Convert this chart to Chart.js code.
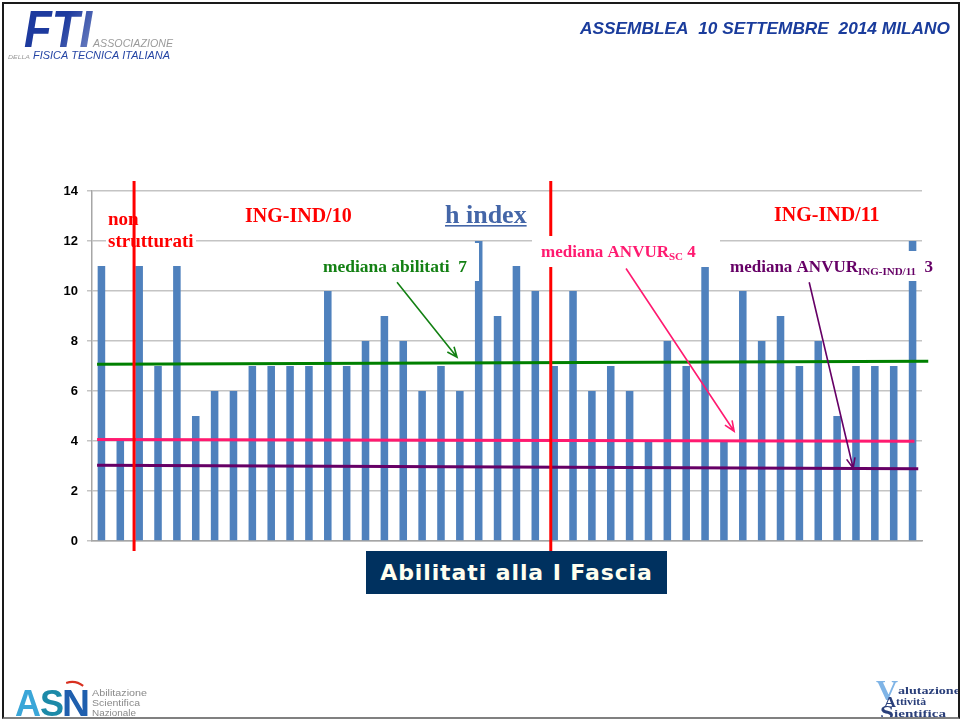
<!DOCTYPE html>
<html>
<head>
<meta charset="utf-8">
<script src="https://cdn.jsdelivr.net/npm/chart.js@4.4.1/dist/chart.umd.min.js"></script>
<style>
html, body { margin: 0; padding: 0; background: #fff; }
#wrap { position: relative; width: 962px; height: 722px; overflow: hidden; background: #fff; }
#c { position: absolute; left: 0; top: 0; }
#frame { position: absolute; left: 2px; top: 2px; width: 954px; height: 713px;
  border: 2px solid #1a1a1a; border-bottom-color: #808080; pointer-events: none; }
#banner { position: absolute; left: 366px; top: 551px; width: 301px; height: 43px;
  background: #00315f; color: #fffff0; font: bold 22px "DejaVu Sans", sans-serif;
  display: flex; align-items: center; justify-content: center; letter-spacing: 0.9px; }
</style>
</head>
<body>
<div id="wrap">
  <canvas id="c" width="962" height="722"></canvas>
  <div id="frame"></div>
  <div id="banner">Abilitati alla I Fascia</div>
</div>
<script>
// ==========================
// DATA
// ==========================
const labels = ["1","2","3","4","5","6","7","8","9","10","11","12","13","14","15","16","17","18","19","20","21","22",
                "23","24","25","26","27","28","29","30","31","32","33","34","35","36","37","38","39","40","41","42","43","44"];

const hIndex = [11, 4, 11, 7, 11, 5, 6, 6, 7, 7, 7, 7, 10, 7, 8, 9, 8, 6, 7, 6, 12, 9,
                11, 10, 7, 10, 6, 7, 6, 4, 8, 7, 11, 4, 10, 8, 9, 7, 8, 5, 7, 7, 7, 12];

const yTicks = [0, 2, 4, 6, 8, 10, 12, 14];

// reference lines (x in bar units, 0 = left edge of plot)
const medianaAbilitati = [{ x: 0.27, y: 7.07 }, { x: 44.33, y: 7.19 }];
const medianaSC        = [{ x: 0.27, y: 4.06 }, { x: 43.6,  y: 3.99 }];
const medianaIng11     = [{ x: 0.27, y: 3.03 }, { x: 43.8,  y: 2.89 }];

// red separators between groups
const separators = [2.23, 24.32];

// arrows [fromX, fromY, toX, toY]
const arrowGreen  = [16.17, 10.35, 19.35, 7.35];
const arrowPink   = [28.31, 10.9, 34.04, 4.39];
const arrowPurple = [38.02, 10.35, 40.35, 2.91];

// ==========================
// HELPERS
// ==========================
function fitText(ctx, txt, x, y, w, font, color) {
    ctx.font = font;
    const m = ctx.measureText(txt).width;
    ctx.save();
    ctx.translate(x, y);
    ctx.scale(w / m, 1);
    ctx.fillStyle = color;
    ctx.textAlign = "left";
    ctx.textBaseline = "alphabetic";
    ctx.fillText(txt, 0, 0);
    ctx.restore();
}

function arrow(ctx, xs, ys, a, color) {
    const x1 = xs.getPixelForValue(a[0]), y1 = ys.getPixelForValue(a[1]);
    const x2 = xs.getPixelForValue(a[2]), y2 = ys.getPixelForValue(a[3]);
    const ang = Math.atan2(y2 - y1, x2 - x1);
    ctx.save();
    ctx.strokeStyle = color;
    ctx.lineWidth = 1.6;
    ctx.beginPath();
    ctx.moveTo(x1, y1);
    ctx.lineTo(x2, y2);
    ctx.moveTo(x2 - 11 * Math.cos(ang - 0.4), y2 - 11 * Math.sin(ang - 0.4));
    ctx.lineTo(x2, y2);
    ctx.lineTo(x2 - 11 * Math.cos(ang + 0.4), y2 - 11 * Math.sin(ang + 0.4));
    ctx.stroke();
    ctx.restore();
}

function subText(ctx, x, y, parts, color) {
    // parts: [text, size, dy]
    ctx.save();
    ctx.fillStyle = color;
    ctx.textBaseline = "alphabetic";
    let cx = x;
    parts.forEach(p => {
        ctx.font = "bold " + p[1] + "px 'Liberation Serif'";
        ctx.fillText(p[0], cx, y + p[2]);
        cx += ctx.measureText(p[0]).width;
    });
    ctx.restore();
}

// ==========================
// OVERLAY PLUGIN
// ==========================
const overlay = {
    id: "overlay",
    afterDatasetsDraw(chart) {
        const ctx = chart.ctx;
        const xs = chart.scales.xl, ys = chart.scales.y;
        const serif = "'Liberation Serif'";

        // non strutturati
        ctx.fillStyle = "#fff";
        ctx.fillRect(106, 230, 90, 20);
        ctx.fillStyle = "#ff0000";
        ctx.font = "bold 19px " + serif;
        ctx.fillText("non", 108, 225);
        ctx.fillText("strutturati", 108, 247);

        // red separators
        ctx.save();
        ctx.strokeStyle = "#ff0000";
        ctx.lineWidth = 3;
        separators.forEach(v => {
            const px = xs.getPixelForValue(v);
            ctx.beginPath();
            ctx.moveTo(px, ys.getPixelForValue(14.4));
            ctx.lineTo(px, ys.getPixelForValue(-0.4));
            ctx.stroke();
        });
        ctx.restore();

        // white label boxes
        ctx.fillStyle = "#fff";
        ctx.fillRect(318, 243, 161, 38);
        ctx.fillRect(532, 236, 188, 31);
        ctx.fillRect(722, 251, 197, 30);

        // group titles
        ctx.fillStyle = "#ff0000";
        ctx.font = "bold 20px " + serif;
        ctx.fillText("ING-IND/10", 245, 222);
        ctx.fillText("ING-IND/11", 774, 221);

        // h index
        ctx.fillStyle = "#4466a8";
        ctx.font = "bold 26px " + serif;
        ctx.fillText("h index", 445, 223);
        ctx.fillRect(445, 225, ctx.measureText("h index").width, 1.6);

        // mediana labels
        fitText(ctx, "mediana abilitati  7", 323, 272, 144, "bold 17px " + serif, "#138013");
        subText(ctx, 541, 257, [["mediana ANVUR", 17, 0], ["SC", 11, 3], [" 4", 17, 0]], "#ff1a70");
        subText(ctx, 730, 272, [["mediana ANVUR", 17, 0], ["ING-IND/11", 11, 3], ["  3", 17, 0]], "#660066");

        // arrows
        arrow(ctx, xs, ys, arrowGreen, "#138013");
        arrow(ctx, xs, ys, arrowPink, "#ff1a70");
        arrow(ctx, xs, ys, arrowPurple, "#660066");
    },
    afterDraw(chart) {
        const ctx = chart.ctx;
        // header
        fitText(ctx, "ASSEMBLEA  10 SETTEMBRE  2014 MILANO", 580, 34, 370,
                "italic bold 17px 'Liberation Sans'", "#1a3c9c");

        // FTI logo
        const g = ctx.createLinearGradient(25, 5, 90, 48);
        g.addColorStop(0, "#1d3a9e");
        g.addColorStop(1, "#b0bde0");
        fitText(ctx, "FTI", 24, 47, 68, "italic bold 52px 'Liberation Sans'", g);
        fitText(ctx, "ASSOCIAZIONE", 93, 47, 80, "italic 10px 'Liberation Sans'", "#9a9a9a");
        fitText(ctx, "FISICA TECNICA ITALIANA", 33, 59, 137, "italic 11px 'Liberation Sans'", "#2444a4");
        fitText(ctx, "DELLA", 8, 59, 22, "italic 6px 'Liberation Sans'", "#9a9a9a");

        // ASN logo
        fitText(ctx, "A", 15, 716, 26, "bold 36px 'Liberation Sans'", "#3aa6d8");
        fitText(ctx, "S", 40, 716, 24, "bold 36px 'Liberation Sans'", "#1c8aa8");
        fitText(ctx, "N", 62, 716, 28, "bold 36px 'Liberation Sans'", "#1f5fae");
        ctx.save();
        ctx.strokeStyle = "#d83020";
        ctx.lineWidth = 2;
        ctx.beginPath();
        ctx.arc(72, 700, 18, -1.9, -0.9);
        ctx.stroke();
        ctx.restore();
        fitText(ctx, "Abilitazione", 92, 696, 55, "9px 'Liberation Sans'", "#8a8a8a");
        fitText(ctx, "Scientifica", 92, 706, 48, "9px 'Liberation Sans'", "#8a8a8a");
        fitText(ctx, "Nazionale", 92, 716, 44, "9px 'Liberation Sans'", "#8a8a8a");

        // VAS logo
        fitText(ctx, "V", 876, 700, 22, "bold 30px 'Liberation Serif'", "#7fb4e6");
        fitText(ctx, "alutazione", 898, 694, 62, "bold 11px 'Liberation Serif'", "#2a3f7a");
        fitText(ctx, "A", 884, 707, 12, "bold 14px 'Liberation Serif'", "#2a3f7a");
        fitText(ctx, "ttività", 896, 705, 30, "bold 11px 'Liberation Serif'", "#2a3f7a");
        fitText(ctx, "S", 880, 719, 14, "bold 18px 'Liberation Serif'", "#2a3f7a");
        fitText(ctx, "ientifica", 894, 717, 52, "bold 11px 'Liberation Serif'", "#2a3f7a");
    }
};

// ==========================
// CHART
// ==========================
new Chart(document.getElementById("c"), {
    type: "bar",
    data: {
        labels,
        datasets: [
            {
                label: "h index",
                data: hIndex,
                backgroundColor: "#4f81bd",
                barPercentage: 0.4,
                categoryPercentage: 1.0,
                grouped: false,
                order: 1
            },
            {
                type: "line", data: medianaAbilitati, xAxisID: "xl",
                borderColor: "#008000", borderWidth: 3, pointRadius: 0, clip: false, order: 0
            },
            {
                type: "line", data: medianaSC, xAxisID: "xl",
                borderColor: "#ff1a70", borderWidth: 3, pointRadius: 0, clip: false, order: 0
            },
            {
                type: "line", data: medianaIng11, xAxisID: "xl",
                borderColor: "#660066", borderWidth: 3, pointRadius: 0, clip: false, order: 0
            }
        ]
    },
    options: {
        responsive: false,
        animation: false,
        layout: { padding: { left: 0, right: 40, top: 191, bottom: 181 } },
        plugins: {
            legend: { display: false },
            tooltip: { enabled: false }
        },
        scales: {
            x: {
                grid: { display: false },
                ticks: { display: false },
                border: { color: "#a6a6a6", width: 1.5 },
                afterFit: s => { s.height = 0; }
            },
            xl: {
                type: "linear", display: false, offset: false, min: 0, max: 44,
                grid: { offset: false }
            },
            y: {
                min: 0, max: 14,
                afterBuildTicks: s => { s.ticks = yTicks.map(v => ({ value: v })); },
                afterFit: s => { s.width = 92; },
                ticks: {
                    color: "#000",
                    padding: 9,
                    font: { family: "'Liberation Sans'", size: 13, weight: "bold" }
                },
                grid: { color: "#c4c4c4", lineWidth: 1.5, tickLength: 5 },
                border: { color: "#a6a6a6", width: 1.5 }
            }
        }
    },
    plugins: [overlay]
});
</script>
</body>
</html>
